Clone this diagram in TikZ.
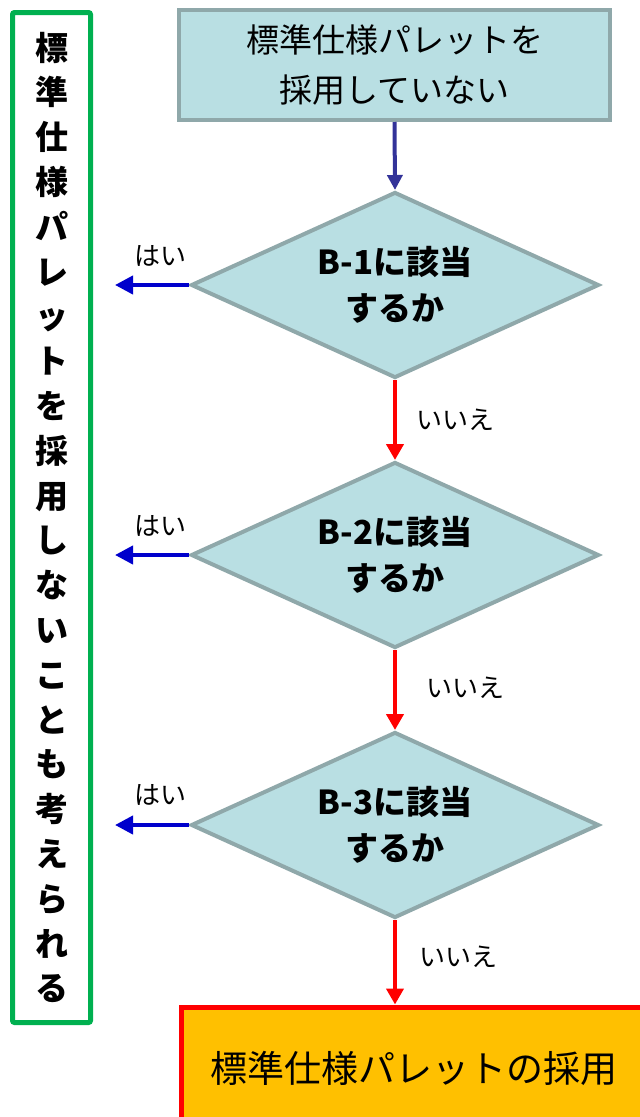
\documentclass[tikz,border=0pt]{standalone}
\usepackage{fontspec}
\setmainfont{Noto Sans CJK JP}
\usetikzlibrary{shapes.geometric,arrows.meta,positioning}
\definecolor{boxteal}{RGB}{185,223,227}
\definecolor{boxedge}{RGB}{143,168,170}
\definecolor{notegreen}{RGB}{0,176,80}
\definecolor{startblue}{RGB}{51,51,153}
\definecolor{yesblue}{RGB}{0,0,204}
\definecolor{adoptorange}{RGB}{255,192,0}

\begin{document}
\begin{tikzpicture}[x=1pt, y=-1pt,
    startbox/.style={rectangle, draw=boxedge, fill=boxteal, line width=4pt,
                     minimum width=431pt, minimum height=110pt, align=center,
                     font=\fontsize{33}{50}\selectfont},
    decision/.style={diamond, draw=boxedge, fill=boxteal, line width=4pt, aspect=2.17,
                     minimum width=408pt, minimum height=186pt, inner sep=0pt,
                     align=center, font=\fontsize{33}{46}\selectfont\bfseries},
    adoptbox/.style={rectangle, draw=red, fill=adoptorange, line width=5pt,
                     minimum width=465pt, minimum height=123pt,
                     font=\fontsize{37}{42}\selectfont},
    notebox/.style={rectangle, draw=notegreen, line width=5pt, rounded corners=2pt,
                    minimum width=78pt, minimum height=1010pt, align=center,
                    font=\fontsize{33}{44.8}\selectfont\bfseries},
    answer/.style={font=\fontsize{26}{30}\selectfont},
    noarrow/.style={-{Triangle[width=17pt,length=16pt]}, line width=4pt, red},
    yesarrow/.style={-{Triangle[width=18pt,length=18pt]}, line width=4pt, yesblue},
    startarrow/.style={-{Triangle[width=15pt,length=15pt]}, line width=4pt, startblue}
]
\useasboundingbox (0,0) rectangle (640,1117);

% side note
\node[notebox] (note) at (51.5,517.5)
  {標\\準\\仕\\様\\パ\\レ\\ッ\\ト\\を\\採\\用\\し\\な\\い\\こ\\と\\も\\考\\え\\ら\\れ\\る};

% flow
\node[startbox] (start) at (394.5,65) {標準仕様パレットを\\採用していない};
\node[decision] (q1) at (395,285) {B-1に該当\\するか};
\node[decision] (q2) at (395,555) {B-2に該当\\するか};
\node[decision] (q3) at (395,825) {B-3に該当\\するか};
\node[adoptbox] (adopt) at (413.5,1068.5) {標準仕様パレットの採用};

\coordinate (y1) at (115,285);
\coordinate (y2) at (115,555);
\coordinate (y3) at (115,825);

\draw[startarrow] (start.south) -- (q1.north);
\draw[noarrow] (q1.south) -- (q2.north);
\draw[noarrow] (q2.south) -- (q3.north);
\draw[noarrow] (q3.south) -- (q3.south |- adopt.north);
\draw[yesarrow] (q1.west) -- (y1);
\draw[yesarrow] (q2.west) -- (y2);
\draw[yesarrow] (q3.west) -- (y3);

% labels
\node[answer] (yes1) at (160,256) {はい};
\node[answer] (yes2) at (160,526) {はい};
\node[answer] (yes3) at (160,795) {はい};
\node[answer] (no1) at (455,420) {いいえ};
\node[answer] (no2) at (465,688) {いいえ};
\node[answer] (no3) at (458,957) {いいえ};

\end{tikzpicture}
\end{document}
